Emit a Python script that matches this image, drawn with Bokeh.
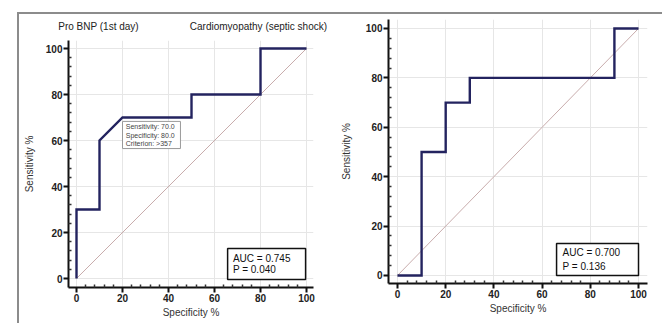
from bokeh.plotting import figure
from bokeh.models import Range1d, FixedTicker, LinearAxis, Div
from bokeh.core.properties import value
from bokeh.embed import file_html
from bokeh.resources import INLINE

# ---------------- data ----------------
major_ticks = [0, 20, 40, 60, 80, 100]
minor_ticks = [4, 8, 12, 16, 24, 28, 32, 36, 44, 48, 52, 56, 64, 68, 72, 76, 84, 88, 92, 96]

left_spec = [0, 0, 10, 10, 20, 50, 50, 80, 80, 100]
left_sens = [0, 30, 30, 60, 70, 70, 80, 80, 100, 100]

right_spec = [0, 10, 10, 20, 20, 30, 30, 90, 90, 100]
right_sens = [0, 0, 50, 50, 70, 70, 80, 80, 100, 100]

diag_x = [0, 100]
diag_y = [0, 100]

left_titles = ["Pro BNP (1st day)", "Cardiomyopathy (septic shock)"]
left_stats = ["AUC = 0.745", "P = 0.040"]
right_stats = ["AUC = 0.700", "P = 0.136"]
criterion_lines = ["Sensitivity: 70.0", "Specificity: 80.0", "Criterion: >357"]

x_label = "Specificity %"
y_label = "Sensitivity %"

# ---------------- style ----------------
FONT = "Liberation Sans"
ROC_COLOR = "#23235f"
DIAG_COLOR = "#c8acac"
GRID_COLOR = "#e6e6e6"
FRAME_GRAY = "#8c8c8c"


def make_panel(cfg):
    p = figure(width=cfg["w"], height=cfg["h"], output_backend="svg", toolbar_location=None,
               x_range=Range1d(*cfg["xr"]), y_range=Range1d(*cfg["yr"]),
               min_border_left=cfg["bl"], min_border_right=cfg["br"],
               min_border_top=cfg["bt"], min_border_bottom=cfg["bb"],
               styles={"position": "absolute", "left": f"{cfg['ox']}px", "top": f"{cfg['oy']}px"})
    p.outline_line_color = None
    p.background_fill_color = "white"
    p.border_fill_color = "white"
    xa, ya = p.below[0], p.left[0]
    for ax in (xa, ya):
        ax.ticker = FixedTicker(ticks=major_ticks, minor_ticks=minor_ticks)
        ax.axis_line_width = 2
        ax.axis_line_color = "#111111"
        ax.major_tick_line_color = "#111111"
        ax.major_tick_line_width = 2
        ax.minor_tick_line_color = "#333333"
        ax.minor_tick_line_width = 1.5
        ax.major_tick_out = 5
        ax.major_tick_in = 0
        ax.minor_tick_in = 3
        ax.minor_tick_out = 0
        ax.major_label_text_font = FONT
        ax.major_label_text_font_size = "10px"
        ax.major_label_text_font_style = "bold"
        ax.major_label_text_color = "#222222"
        ax.major_label_standoff = 1
        ax.axis_label_text_font = FONT
        ax.axis_label_text_font_size = "10px"
        ax.axis_label_text_font_style = "normal"
        ax.axis_label_text_color = "#333333"
    xa.axis_label = x_label
    xa.axis_label_standoff = 2
    ya.axis_label = y_label
    ya.axis_label_standoff = cfg["ylab_standoff"]
    p.grid.grid_line_color = GRID_COLOR
    p.grid.grid_line_width = 1
    return p


def stats_box(p, box, lines, tx, ty):
    p.quad(left=box[0], right=box[1], bottom=box[2], top=box[3],
           fill_color="white", line_color="#111111", line_width=1.5)
    p.text(x=[tx] * len(lines), y=ty, text=lines, text_font=value(FONT),
           text_font_size="10px", text_color="#111111",
           text_baseline="middle", text_align="left")


# ---------------- left panel ----------------
L = dict(ox=0, oy=0, w=335, h=323, bl=68, br=22, bt=40, bb=36,
         xr=(-3.48, 103.04), yr=(-3.91, 103.48), ylab_standoff=8)
p1 = make_panel(L)
p1.line(diag_x, diag_y, line_color=DIAG_COLOR, line_width=1)
p1.line(left_spec, left_sens, line_color=ROC_COLOR, line_width=2.4, line_join="miter")

p1.quad(left=20, right=45.2, bottom=56.5, top=68.3, fill_color="white",
        line_color="#9a9a9a", line_width=1)
p1.text(x=[21.4] * 3, y=[66.0, 62.3, 58.5], text=criterion_lines, text_font=value(FONT),
        text_font_size="7px", text_color="#444444", text_baseline="middle")

stats_box(p1, (65.7, 99.6, -0.4, 13.0), left_stats, 68.0, [8.9, 3.9])

# header texts, centred over the frame via a bare axis above it
title_pos = [9.6, 79.1]
top_axis = LinearAxis(ticker=FixedTicker(ticks=title_pos, minor_ticks=[]),
                      major_label_overrides={k: t for k, t in zip(title_pos, left_titles)})
top_axis.axis_line_color = None
top_axis.major_tick_line_color = None
top_axis.minor_tick_line_color = None
top_axis.major_label_standoff = 3
top_axis.major_label_text_font = FONT
top_axis.major_label_text_font_size = "10px"
top_axis.major_label_text_color = "#222222"
p1.add_layout(top_axis, "above")

# ---------------- right panel ----------------
R = dict(ox=335, oy=0, w=327, h=323, bl=53, br=15, bt=19, bb=40,
         xr=(-3.73, 103.73), yr=(-3.24, 103.64), ylab_standoff=11)
p2 = make_panel(R)
p2.line(diag_x, diag_y, line_color=DIAG_COLOR, line_width=1)
p2.line(right_spec, right_sens, line_color=ROC_COLOR, line_width=2.4, line_join="miter")

stats_box(p2, (66.0, 100.0, 0.0, 13.0), right_stats, 68.5, [9.3, 3.6])

# thin grey frame round the whole picture
frame = Div(text="", width=647, height=316,
            styles={"position": "absolute", "left": "12px", "top": "7px", "z-index": "10",
                    "box-sizing": "border-box", "pointer-events": "none",
                    "border-top": f"2px solid {FRAME_GRAY}",
                    "border-left": f"2px solid {FRAME_GRAY}",
                    "border-right": f"2px solid {FRAME_GRAY}"})

open("out.html", "w").write(file_html([p1, p2, frame], INLINE))
